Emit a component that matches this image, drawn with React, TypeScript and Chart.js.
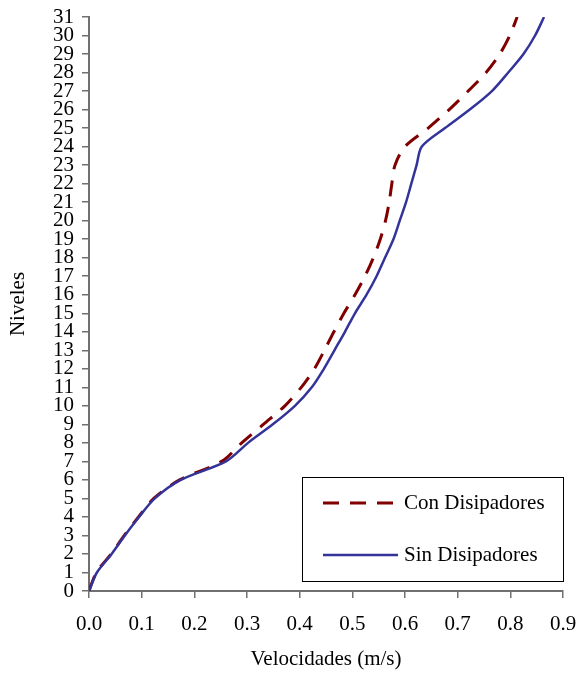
import React, { useEffect, useRef } from "react";
import { Chart, registerables } from "chart.js";

Chart.register(...registerables);

const niveles = [0, 1, 2, 3, 4, 5, 6, 7, 8, 9, 10, 11, 12, 13, 14, 15, 16, 17, 18, 19, 20, 21, 22, 23, 24, 25, 26, 27, 28, 29, 30, 31];

const conDisipadores = [0, 0.014, 0.042, 0.067, 0.094, 0.123, 0.172, 0.252, 0.29, 0.331, 0.372, 0.403, 0.428, 0.447, 0.465, 0.484, 0.505, 0.524, 0.54, 0.553, 0.563, 0.57, 0.575, 0.581, 0.6, 0.644, 0.684, 0.72, 0.754, 0.78, 0.799, 0.813];

const sinDisipadores = [0, 0.015, 0.043, 0.068, 0.095, 0.125, 0.174, 0.26, 0.302, 0.349, 0.391, 0.423, 0.446, 0.466, 0.486, 0.505, 0.527, 0.546, 0.562, 0.578, 0.59, 0.602, 0.612, 0.622, 0.632, 0.676, 0.723, 0.765, 0.796, 0.825, 0.847, 0.864];

const xTicks = [0, 0.1, 0.2, 0.3, 0.4, 0.5, 0.6, 0.7, 0.8, 0.9];

const seriesNames = ["Con Disipadores", "Sin Disipadores"];
const xTitle = "Velocidades (m/s)";
const yTitle = "Niveles";

const FONT = "'Liberation Serif', 'Times New Roman', serif";
const FS = 21;

const legendPlugin = {
  id: "boxLegend",
  afterDraw(chart: any) {
    const { ctx, chartArea } = chart;
    const w = 261;
    const h = 104;
    const left = chartArea.right - w;
    const top = chartArea.bottom - 10 - h;
    ctx.save();
    ctx.fillStyle = "#ffffff";
    ctx.fillRect(left, top, w, h);
    ctx.strokeStyle = "#000000";
    ctx.lineWidth = 1;
    ctx.strokeRect(Math.round(left) + 0.5, Math.round(top) + 0.5, w, h);
    const ds = chart.data.datasets;
    ds.forEach((d: any, i: number) => {
      const y = top + 26 + i * 52;
      ctx.beginPath();
      ctx.strokeStyle = d.borderColor;
      ctx.lineWidth = d.borderWidth;
      ctx.setLineDash(d.borderDash || []);
      ctx.moveTo(left + 21, y);
      ctx.lineTo(left + 96, y);
      ctx.stroke();
      ctx.setLineDash([]);
      ctx.fillStyle = "#000000";
      ctx.font = `${FS}px ${FONT}`;
      ctx.textBaseline = "middle";
      ctx.textAlign = "left";
      ctx.fillText(d.label, left + 102, y);
    });
    ctx.restore();
  },
};

export default function App() {
  const ref = useRef<HTMLCanvasElement | null>(null);

  useEffect(() => {
    if (!ref.current) return;
    const chart = new Chart(ref.current, {
      type: "scatter",
      data: {
        datasets: [
          {
            label: seriesNames[0],
            data: niveles.map((n, i) => ({ x: conDisipadores[i], y: n })),
            showLine: true,
            borderColor: "#800000",
            backgroundColor: "#800000",
            borderWidth: 3,
            borderDash: [16, 11],
            pointRadius: 0,
            tension: 0.3,
            fill: false,
            order: 1,
          },
          {
            label: seriesNames[1],
            data: niveles.map((n, i) => ({ x: sinDisipadores[i], y: n })),
            showLine: true,
            borderColor: "#333399",
            backgroundColor: "#333399",
            borderWidth: 2.5,
            pointRadius: 0,
            tension: 0.3,
            fill: false,
            order: 0,
          },
        ],
      },
      options: {
        animation: false,
        responsive: false,
        devicePixelRatio: 1,
        layout: { padding: { top: 17, right: 14, left: 0, bottom: 0 } },
        plugins: {
          legend: { display: false },
          tooltip: { enabled: false },
        },
        scales: {
          x: {
            type: "linear",
            min: 0,
            max: 0.9,
            afterBuildTicks: (s: any) => {
              s.ticks = xTicks.map((v) => ({ value: v }));
            },
            afterFit: (s: any) => {
              s.height = 82;
              s.paddingLeft = 0;
              s.paddingRight = 0;
            },
            ticks: {
              autoSkip: false,
              maxRotation: 0,
              color: "#000",
              padding: 14,
              font: { family: FONT, size: FS },
              callback: (v: any) => Number(v).toFixed(1),
            },
            grid: {
              drawOnChartArea: false,
              drawTicks: true,
              tickLength: 7,
              color: "#707070",
              lineWidth: 1.5,
            },
            border: { display: true, color: "#707070", width: 2 },
            title: {
              display: true,
              text: xTitle,
              color: "#000",
              font: { family: FONT, size: FS },
              padding: { top: 0, bottom: 1 },
            },
          },
          y: {
            type: "linear",
            min: 0,
            max: 31,
            afterBuildTicks: (s: any) => {
              s.ticks = niveles.map((v) => ({ value: v }));
            },
            afterFit: (s: any) => {
              s.width = 89;
              s.paddingTop = 0;
              s.paddingBottom = 0;
            },
            ticks: {
              autoSkip: false,
              color: "#000",
              padding: 8,
              font: { family: FONT, size: FS },
            },
            grid: {
              drawOnChartArea: false,
              drawTicks: true,
              tickLength: 7,
              color: "#707070",
              lineWidth: 1.5,
            },
            border: { display: true, color: "#707070", width: 2 },
            title: {
              display: true,
              text: yTitle,
              color: "#000",
              font: { family: FONT, size: FS },
              padding: { top: 6, bottom: 0 },
            },
          },
        },
      },
      plugins: [legendPlugin],
    });
    return () => chart.destroy();
  }, []);

  return (
    <div style={{ position: "absolute", left: 0, top: 0, width: 577, height: 673, background: "#fff" }}>
      <canvas ref={ref} width={577} height={673} style={{ display: "block" }} />
    </div>
  );
}
